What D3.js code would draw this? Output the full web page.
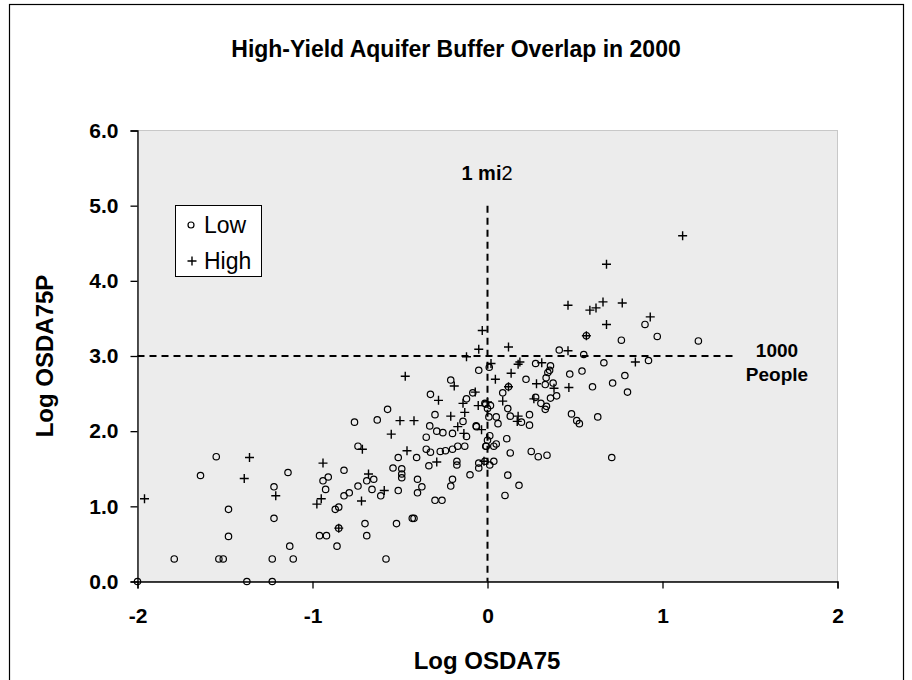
<!DOCTYPE html>
<html><head><meta charset="utf-8">
<script src="https://cdn.jsdelivr.net/npm/d3@7"></script>
<style>body{margin:0;background:#fff}svg{display:block}text{font-family:"Liberation Sans",Arial,sans-serif}</style>
</head><body>
<svg id="c" width="912" height="680"></svg>
<script>
const title = "High-Yield Aquifer Buffer Overlap in 2000";
const xTicks = [-2, -1, 0, 1, 2];
const yTicks = [0, 1, 2, 3, 4, 5, 6];
const seriesNames = ["Low", "High"];
const lowX = [-1.55,-1.64,-1.14,-1.22,-1.48,-1.22,-1.48,-1.13,-1.79,-1.535,-1.51,-1.23,-1.11,-2.0,-1.375,-1.23,
 -0.326,-0.12,-0.084,-0.015,-0.571,-0.76,-0.63,-0.30,-0.14,-0.33,-0.29,-0.255,-0.20,-0.12,-0.065,-0.35,-0.74,-0.35,-0.326,-0.27,-0.24,-0.20,-0.17,-0.13,-0.01,-0.51,-0.405,-0.335,-0.175,-0.175,-0.05,-0.05,-0.10,-0.82,-0.54,-0.49,-0.49,-0.49,-0.91,-0.94,-0.925,-0.69,-0.65,-0.74,-0.66,-0.61,-0.51,-0.40,-0.375,-0.40,-0.20,-0.21,-0.82,-0.79,-0.85,-0.87,-0.30,-0.26,-0.43,-0.42,-0.52,-0.70,-0.85,-0.96,-0.92,-0.69,-0.86,-0.58,
 -0.05,-0.21,
 0.41,0.55,0.565,0.765,0.90,0.665,0.92,0.54,0.47,0.60,0.715,0.785,0.80,0.01,0.275,0.36,0.355,0.345,0.22,0.335,0.33,0.375,0.12,0.087,0.395,0.36,0.275,0.305,0.337,0.33,-0.01,0.017,0.0,0.116,0.008,0.05,0.06,0.13,0.194,0.24,0.24,-0.063,0.48,0.51,0.525,0.63,0.013,0.0,-0.007,0.05,0.036,0.11,0.13,0.25,0.29,0.34,0.71,-0.015,0.013,0.036,0.116,
 0.18,0.10,0.97,1.205];
const lowY = [1.66,1.41,1.45,1.26,0.96,0.84,0.60,0.47,0.30,0.30,0.30,0.30,0.30,0.0,0.0,0.0,
 2.49,2.43,2.51,2.37,2.29,2.12,2.15,2.22,2.13,2.07,2.00,1.98,1.97,1.93,2.07,1.92,1.80,1.76,1.72,1.73,1.74,1.76,1.80,1.80,1.80,1.65,1.65,1.54,1.60,1.55,1.575,1.51,1.42,1.48,1.51,1.50,1.43,1.38,1.39,1.34,1.225,1.34,1.36,1.27,1.225,1.14,1.21,1.36,1.26,1.18,1.36,1.27,1.14,1.18,0.99,0.96,1.08,1.08,0.84,0.84,0.77,0.77,0.71,0.61,0.61,0.61,0.47,0.30,
 2.81,2.68,
 3.08,3.02,3.27,3.21,3.42,2.91,2.94,2.80,2.76,2.59,2.64,2.74,2.52,2.85,2.90,2.87,2.81,2.78,2.69,2.71,2.62,2.64,2.59,2.51,2.47,2.44,2.45,2.37,2.33,2.29,2.36,2.34,2.30,2.30,2.19,2.19,2.10,2.20,2.12,2.22,2.08,2.06,2.23,2.14,2.10,2.19,1.94,1.88,1.80,1.83,1.80,1.90,1.71,1.73,1.66,1.68,1.65,1.60,1.55,1.60,1.415,
 1.28,1.145,3.26,3.20];
const highX = [-1.96,-1.36,-1.39,-1.21,
 -0.19,-0.28,-0.07,-0.14,-0.053,-0.50,-0.42,-0.21,-0.13,-0.17,-0.135,-0.034,-0.55,-0.715,-0.46,-0.29,-0.02,-0.94,-0.68,-0.59,-0.95,-0.975,-0.72,-0.85,
 -0.03,-0.05,-0.12,-0.47,
 0.12,0.46,0.565,0.46,0.585,0.62,0.77,0.66,0.68,0.93,0.845,0.02,0.185,0.175,0.135,0.31,0.045,0.28,0.12,0.38,0.465,0.087,0.265,0.0,0.175,0.17,
 1.115,0.68];
const highY = [1.10,1.65,1.37,1.14,
 2.60,2.41,2.52,2.37,2.34,2.14,2.14,2.20,2.25,2.06,1.97,2.02,1.96,1.76,1.74,1.59,1.60,1.575,1.43,1.21,1.10,1.03,1.07,0.71,
 3.34,3.09,2.99,2.73,
 3.12,3.07,3.27,3.675,3.61,3.64,3.705,3.72,3.42,3.52,2.92,2.90,2.92,2.89,2.77,2.91,2.69,2.63,2.59,2.57,2.58,2.40,2.43,2.39,2.20,2.13,
 4.60,4.22];
const refX = 0, refY = 3, refXEnd = 1.42, refYTop = 5;

const svg = d3.select("#c");
svg.append("rect").attr("x",9.5).attr("y",4.5).attr("width",894).attr("height",700)
  .attr("fill","#fff").attr("stroke","#000").attr("stroke-width",1.2);

const x = d3.scaleLinear().domain([-2,2]).range([137.5,837.5]);
const y = d3.scaleLinear().domain([0,6]).range([581.5,130.5]);

svg.append("rect").attr("x",x(-2)).attr("y",y(6)).attr("width",x(2)-x(-2)).attr("height",y(0)-y(6))
  .attr("fill","#ececec").attr("stroke","#c8c8c8").attr("stroke-width",1);

const yAxis = svg.append("g").attr("transform",`translate(${x(-2)},0)`)
  .call(d3.axisLeft(y).tickValues(yTicks).tickFormat(d3.format(".1f")).tickSize(7).tickPadding(12));
const xAxis = svg.append("g").attr("transform",`translate(0,${y(0)})`)
  .call(d3.axisBottom(x).tickValues(xTicks).tickFormat(d3.format("d")).tickSize(7).tickPadding(20));
[yAxis,xAxis].forEach(g=>{
  g.selectAll("path,line").attr("stroke","#000").attr("stroke-width",1.3);
  g.selectAll("text").attr("font-size",21).attr("font-weight","bold").attr("fill","#000")
   .style("font-family",'"Liberation Sans",Arial,sans-serif');
});
xAxis.selectAll("text").text(d => d < 0 ? "-" + Math.abs(d) : d);

// reference dashed lines
svg.append("line").attr("x1",x(-2)).attr("x2",x(refXEnd)).attr("y1",y(refY)).attr("y2",y(refY))
  .attr("stroke","#000").attr("stroke-width",2).attr("stroke-dasharray","7,5");
svg.append("line").attr("x1",x(refX)).attr("x2",x(refX)).attr("y1",y(refYTop)).attr("y2",y(0))
  .attr("stroke","#000").attr("stroke-width",2).attr("stroke-dasharray","7,5");

// points
svg.append("g").selectAll("circle").data(lowX.map((v,i)=>[v,lowY[i]])).join("circle")
  .attr("cx",d=>x(d[0])).attr("cy",d=>y(d[1])).attr("r",3.2)
  .attr("fill","none").attr("stroke","#000").attr("stroke-width",1.2);
svg.append("g").selectAll("path").data(highX.map((v,i)=>[v,highY[i]])).join("path")
  .attr("transform",d=>`translate(${x(d[0])},${y(d[1])})`)
  .attr("d","M-4.5,0H4.5M0,-4.5V4.5").attr("stroke","#000").attr("stroke-width",1.4).attr("fill","none");

// title and axis titles
svg.append("text").attr("x",456).attr("y",57).attr("text-anchor","middle")
  .attr("font-size",23).attr("font-weight","bold").text(title);
svg.append("text").attr("x",487).attr("y",669).attr("text-anchor","middle")
  .attr("font-size",24).attr("font-weight","bold").text("Log OSDA75");
svg.append("text").attr("transform","translate(53,356) rotate(-90)").attr("text-anchor","middle")
  .attr("font-size",24).attr("font-weight","bold").text("Log OSDA75P");

// annotations
const t1 = svg.append("text").attr("x",487).attr("y",180).attr("text-anchor","middle").attr("font-size",20);
t1.append("tspan").attr("font-weight","bold").text("1 mi");
t1.append("tspan").text("2");
svg.append("text").attr("x",777).attr("y",357).attr("text-anchor","middle").attr("font-size",19).attr("font-weight","bold").text("1000");
svg.append("text").attr("x",777).attr("y",381).attr("text-anchor","middle").attr("font-size",19).attr("font-weight","bold").text("People");

// legend
const lg = svg.append("g");
lg.append("rect").attr("x",175.5).attr("y",205.5).attr("width",86).attr("height",71)
  .attr("fill","#fff").attr("stroke","#000").attr("stroke-width",1);
lg.append("circle").attr("cx",191).attr("cy",225).attr("r",3).attr("fill","none").attr("stroke","#000").attr("stroke-width",1.2);
lg.append("path").attr("transform","translate(192,261)").attr("d","M-4.5,0H4.5M0,-4.5V4.5").attr("stroke","#000").attr("stroke-width",1.4);
lg.append("text").attr("x",204).attr("y",233).attr("font-size",23).text(seriesNames[0]);
lg.append("text").attr("x",204).attr("y",269).attr("font-size",23).text(seriesNames[1]);
</script>
</body></html>
